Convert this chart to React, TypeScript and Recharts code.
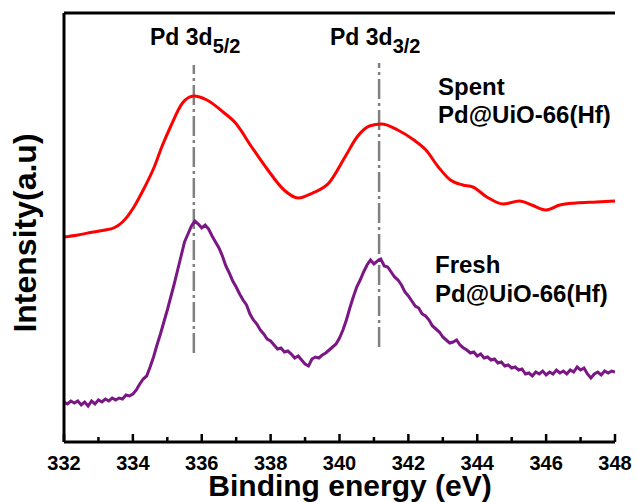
import { LineChart, Line, XAxis, YAxis, ReferenceLine } from "recharts"

// binding energy (eV) vs intensity (a.u.)
const spent: [number, number][] = [
  [332.0, 205], [332.4, 207], [332.85, 210], [333.2, 212], [333.44, 214],
  [333.7, 220], [334.03, 235], [334.3, 252], [334.62, 275], [334.85, 296],
  [335.09, 315], [335.44, 339], [335.77, 346], [336.15, 342], [336.62, 330],
  [336.98, 319], [337.45, 295], [337.92, 272], [338.39, 252], [338.8, 244],
  [339.22, 249], [339.69, 259], [340.16, 285], [340.51, 305], [340.87, 316],
  [341.22, 318], [341.69, 312], [342.16, 302], [342.51, 292], [342.87, 275],
  [343.22, 262], [343.58, 257], [343.87, 255], [344.28, 245], [344.75, 238],
  [345.23, 241], [345.58, 237], [345.99, 232], [346.4, 237], [346.87, 239],
  [347.46, 240], [348.0, 241],
]

const fresh: [number, number][] = [
  [332.0, 40], [332.1, 38], [332.2, 41], [332.3, 39], [332.4, 41], [332.5, 37],
  [332.6, 40], [332.7, 36], [332.8, 41], [332.9, 38], [333.0, 42], [333.1, 40],
  [333.2, 43], [333.3, 41], [333.4, 44], [333.5, 42], [333.6, 44], [333.7, 43],
  [333.8, 47], [333.9, 46], [334.0, 48], [334.1, 52], [334.2, 58], [334.3, 63],
  [334.4, 66], [334.5, 75], [334.6, 85], [334.7, 97], [334.8, 108], [334.9, 120],
  [335.0, 132], [335.1, 145], [335.2, 158], [335.3, 172], [335.4, 186], [335.5, 200],
  [335.6, 208], [335.7, 216], [335.8, 221], [335.9, 218], [336.0, 214], [336.1, 217],
  [336.2, 213], [336.3, 206], [336.4, 200], [336.5, 194], [336.6, 186], [336.7, 176],
  [336.8, 169], [336.9, 161], [337.0, 155], [337.1, 148], [337.2, 142], [337.3, 137],
  [337.4, 128], [337.5, 122], [337.6, 118], [337.7, 112], [337.8, 108], [337.9, 103],
  [338.0, 101], [338.1, 97], [338.2, 93], [338.3, 94], [338.4, 90], [338.5, 91],
  [338.6, 88], [338.7, 84], [338.8, 86], [338.9, 82], [339.0, 78], [339.1, 76],
  [339.2, 83], [339.3, 85], [339.4, 84], [339.5, 87], [339.6, 89], [339.7, 92],
  [339.8, 95], [339.9, 98], [340.0, 104], [340.1, 112], [340.2, 122], [340.3, 134],
  [340.4, 145], [340.5, 155], [340.6, 162], [340.7, 170], [340.8, 177], [340.9, 182],
  [341.0, 178], [341.1, 181], [341.2, 183], [341.3, 176], [341.4, 175], [341.5, 170],
  [341.6, 165], [341.7, 162], [341.8, 157], [341.9, 150], [342.0, 146], [342.1, 141],
  [342.2, 136], [342.3, 134], [342.4, 128], [342.5, 126], [342.6, 122], [342.7, 116],
  [342.8, 113], [342.9, 110], [343.0, 105], [343.1, 102], [343.2, 99], [343.3, 100],
  [343.4, 102], [343.5, 97], [343.6, 94], [343.7, 92], [343.8, 89], [343.9, 90],
  [344.0, 86], [344.1, 88], [344.2, 84], [344.3, 85], [344.4, 82], [344.5, 83],
  [344.6, 79], [344.7, 80], [344.8, 76], [344.9, 77], [345.0, 74], [345.1, 75],
  [345.2, 72], [345.3, 73], [345.4, 68], [345.5, 69], [345.6, 66], [345.7, 70],
  [345.8, 68], [345.9, 71], [346.0, 67], [346.1, 70], [346.2, 68], [346.3, 72],
  [346.4, 69], [346.5, 71], [346.6, 68], [346.7, 72], [346.8, 70], [346.9, 75],
  [347.0, 72], [347.1, 74], [347.2, 68], [347.3, 64], [347.4, 68], [347.5, 70],
  [347.6, 67], [347.7, 71], [347.8, 69], [347.9, 71], [348.0, 70],
]

const xTicks = [332, 333, 334, 335, 336, 337, 338, 339, 340, 341, 342, 343, 344, 345, 346, 347, 348]

// peak positions and the span of the dash-dot markers
const peaks = [
  { x: 335.77, from: 89, to: 377 },
  { x: 341.15, from: 95, to: 379 },
]

const spentData = spent.map(([e, v]) => ({ e, v }))
const freshData = fresh.map(([e, v]) => ({ e, v }))

const font = "'Liberation Sans', Arial, sans-serif"

const XTick = (props: any) => {
  const { x, y, payload } = props
  const major = payload.value % 2 === 0
  return (
    <g>
      <line x1={x} x2={x} y1={y} y2={y - (major ? 8 : 5)} stroke="#000" strokeWidth={2.5} />
      {major && (
        <text x={x} y={y + 28} textAnchor="middle" fontFamily={font} fontWeight="bold" fontSize={20} fill="#000">
          {payload.value}
        </text>
      )}
    </g>
  )
}

export default function App() {
  return (
    <div style={{ position: "absolute", left: 0, top: 0, width: 636, height: 503, background: "#fff" }}>
      <LineChart width={636} height={503} margin={{ top: 13, right: 21, bottom: 0, left: 0 }}>
        <XAxis
          dataKey="e"
          type="number"
          domain={[332, 348]}
          ticks={xTicks}
          interval={0}
          height={61}
          tickSize={0}
          tickMargin={0}
          tickLine={false}
          tick={<XTick />}
          axisLine={{ stroke: "#000", strokeWidth: 3 }}
          allowDataOverflow
        />
        <YAxis type="number" domain={[0, 429]} width={64} tick={false} tickLine={false} axisLine={{ stroke: "#000", strokeWidth: 3 }} allowDataOverflow />
        <YAxis yAxisId="right" orientation="right" width={0} tick={false} tickLine={false} axisLine={{ stroke: "#000", strokeWidth: 3 }} />
        <ReferenceLine y={429} stroke="#000" strokeWidth={3} />
        {peaks.map((p) => (
          <ReferenceLine
            key={p.x}
            segment={[{ x: p.x, y: p.from }, { x: p.x, y: p.to }]}
            stroke="#808080"
            strokeWidth={2.5}
            strokeDasharray="20 4 3 4"
          />
        ))}
        <Line data={spentData} dataKey="v" type="monotone" stroke="#ff0000" strokeWidth={3} dot={false} isAnimationActive={false} />
        <Line data={freshData} dataKey="v" type="linear" stroke="#7b1685" strokeWidth={3} dot={false} isAnimationActive={false} />
      </LineChart>
      <svg width={636} height={503} style={{ position: "absolute", left: 0, top: 0, pointerEvents: "none" }} fontFamily={font} fontWeight="bold" fill="#000">
        <text x={150} y={45} fontSize={23}>
          Pd 3d<tspan fontSize={20} dy={8}>5/2</tspan>
        </text>
        <text x={330} y={45} fontSize={23}>
          Pd 3d<tspan fontSize={20} dy={8}>3/2</tspan>
        </text>
        <text x={438} y={95} fontSize={24}>Spent</text>
        <text x={438} y={123} fontSize={24}>Pd@UiO-66(Hf)</text>
        <text x={435} y={273} fontSize={24}>Fresh</text>
        <text x={435} y={302} fontSize={24}>Pd@UiO-66(Hf)</text>
        <text x={36} y={233} fontSize={32} textAnchor="middle" transform="rotate(-90 36 233)">Intensity(a.u)</text>
        <text x={350} y={496} fontSize={30} textAnchor="middle">Binding energy (eV)</text>
      </svg>
    </div>
  )
}
